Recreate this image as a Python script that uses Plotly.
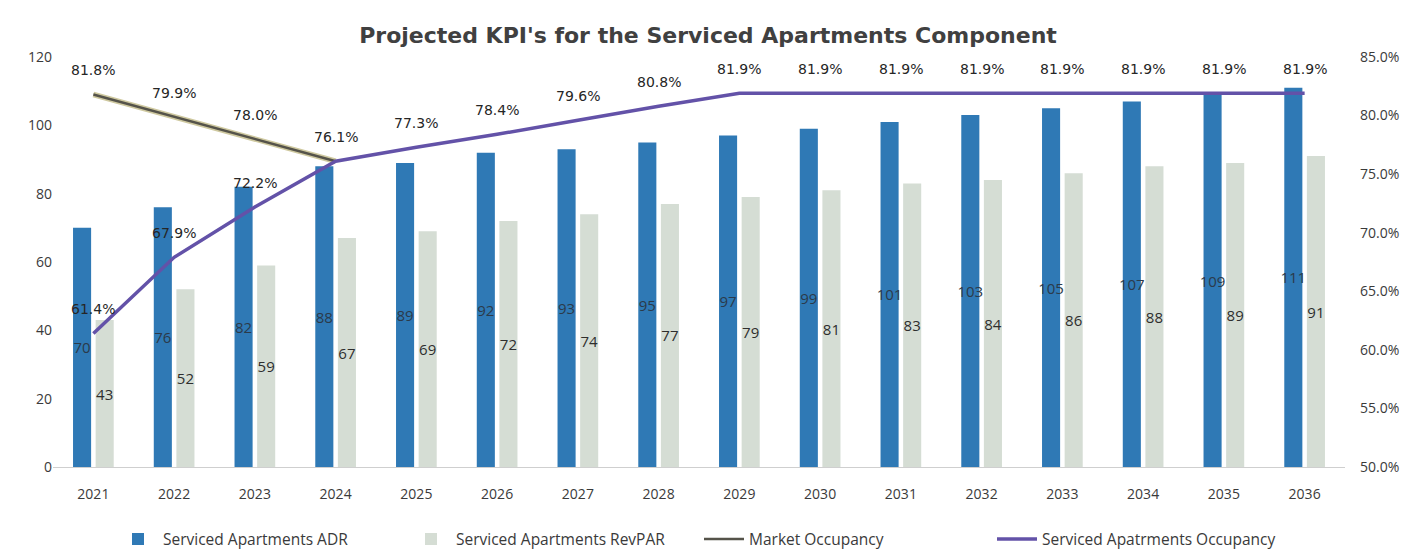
import plotly.graph_objects as go

# Forecast years
years = ["2021", "2022", "2023", "2024", "2025", "2026", "2027", "2028",
         "2029", "2030", "2031", "2032", "2033", "2034", "2035", "2036"]

# Average daily rate and revenue per available room
adr = [70, 76, 82, 88, 89, 92, 93, 95, 97, 99, 101, 103, 105, 107, 109, 111]
revpar = [43, 52, 59, 67, 69, 72, 74, 77, 79, 81, 83, 84, 86, 88, 89, 91]

# Occupancy rates (%)
market_years = ["2021", "2022", "2023", "2024"]
market_occ = [81.8, 79.9, 78.0, 76.1]
serviced_occ = [61.4, 67.9, 72.2, 76.1, 77.3, 78.4, 79.6, 80.8,
                81.9, 81.9, 81.9, 81.9, 81.9, 81.9, 81.9, 81.9]

AXIS_FONT = dict(family="Open Sans, sans-serif", size=14, color="#3a3a3a")
PCT_FONT = dict(family="DejaVu Sans, sans-serif", size=14, color="#262626")

fig = go.Figure()

fig.add_trace(go.Bar(
    x=years, y=adr, name="Serviced Apartments ADR",
    marker=dict(color="#2f79b5", line=dict(width=0)),
    text=[str(v) for v in adr], textposition="inside",
    insidetextanchor="middle", textangle=0, constraintext="none",
    textfont=dict(family="Open Sans, sans-serif", size=15, color="#2b3a4a"),
))
fig.add_trace(go.Bar(
    x=years, y=revpar, name="Serviced Apartments RevPAR",
    marker=dict(color="#d5ddd4", line=dict(width=0)),
    text=[str(v) for v in revpar], textposition="inside",
    insidetextanchor="middle", textangle=0, constraintext="none",
    textfont=dict(family="Open Sans, sans-serif", size=15, color="#2e2e2e"),
))
# Market occupancy: khaki casing under a dark core line
fig.add_trace(go.Scatter(
    x=market_years, y=market_occ, yaxis="y2", mode="lines",
    line=dict(color="#cfc9a0", width=5.5), showlegend=False, hoverinfo="skip",
))
fig.add_trace(go.Scatter(
    x=market_years, y=market_occ, name="Market Occupancy", yaxis="y2",
    mode="lines", line=dict(color="#55534a", width=2.5),
))
fig.add_trace(go.Scatter(
    x=years, y=serviced_occ, name="Serviced Apatrments Occupancy", yaxis="y2",
    mode="lines", line=dict(color="#6352a8", width=3.5),
))

# Percentage labels above each occupancy point (category index positions)
annotations = []
for x, v in zip(market_years[:-1], market_occ[:-1]):
    annotations.append(dict(x=years.index(x), y=v, xref="x", yref="y2",
                            text=f"{v:.1f}%", showarrow=False, yshift=24,
                            font=PCT_FONT))
for i, v in enumerate(serviced_occ):
    annotations.append(dict(x=i, y=v, xref="x", yref="y2",
                            text=f"{v:.1f}%", showarrow=False, yshift=24,
                            font=PCT_FONT))

fig.update_layout(
    width=1416, height=557,
    paper_bgcolor="white", plot_bgcolor="white",
    margin=dict(l=53, r=71, t=57, b=90, autoexpand=False),
    title=dict(text="<b>Projected KPI's for the Serviced Apartments Component</b>",
               x=0.5, xanchor="center", y=0.937, yanchor="middle",
               font=dict(family="DejaVu Sans, sans-serif", size=22, color="#404040")),
    barmode="group", bargap=0.44, bargroupgap=0.2,
    showlegend=True,
    legend=dict(orientation="h", x=0.5, xanchor="center", y=-0.135, yanchor="top",
                font=dict(family="Open Sans, sans-serif", size=15.5, color="#3a3a3a"),
                traceorder="normal", itemwidth=40,
                entrywidth=238, entrywidthmode="pixels"),
    xaxis=dict(type="category", range=[-0.5, len(years) - 0.5], showgrid=False,
               showline=True, linecolor="#cfcfcf", linewidth=1, ticks="",
               tickfont=AXIS_FONT, ticklabelstandoff=14),
    yaxis=dict(range=[0, 120], dtick=20, showgrid=False, zeroline=False,
               showline=False, ticks="", tickfont=AXIS_FONT),
    yaxis2=dict(range=[50, 85], dtick=5, overlaying="y", side="right",
                showgrid=False, zeroline=False, showline=False, ticks="",
                ticksuffix="%", tickformat=".1f", tickfont=AXIS_FONT,
                ticklabelstandoff=14),
    annotations=annotations,
)

fig.write_html("out.html")
